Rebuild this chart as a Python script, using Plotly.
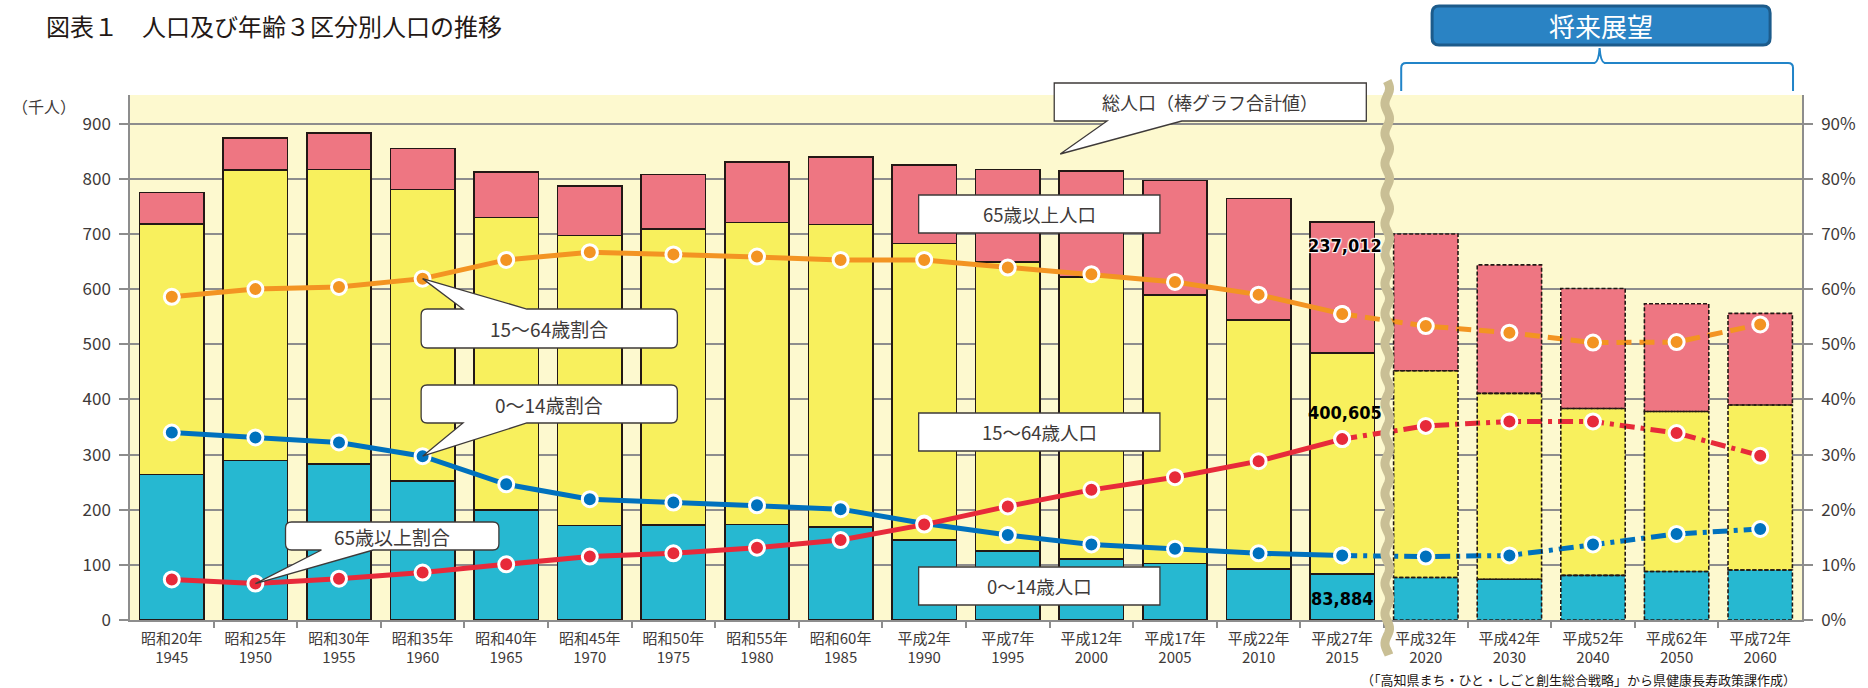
import math
import plotly.graph_objects as go

# ---------------- data ----------------
era_labels = ["昭和20年", "昭和25年", "昭和30年", "昭和35年", "昭和40年", "昭和45年", "昭和50年",
              "昭和55年", "昭和60年", "平成2年", "平成7年", "平成12年", "平成17年", "平成22年",
              "平成27年", "平成32年", "平成42年", "平成52年", "平成62年", "平成72年"]
year_labels = ["1945", "1950", "1955", "1960", "1965", "1970", "1975", "1980", "1985", "1990",
               "1995", "2000", "2005", "2010", "2015", "2020", "2030", "2040", "2050", "2060"]

# population (thousand persons)
pop_0_14 = [263.5, 289.0, 282.5, 252.5, 199.0, 171.6, 172.0, 173.4, 168.5, 144.6,
            125.6, 111.0, 102.3, 93.0, 83.884, 77.0, 74.0, 81.0, 88.0, 90.7]
pop_15_64 = [454.5, 526.5, 534.5, 528.5, 531.0, 525.4, 537.5, 547.6, 549.0, 538.4,
             523.4, 511.0, 487.2, 451.0, 400.605, 375.0, 337.0, 302.6, 290.0, 299.3]
pop_65 = [57.0, 58.5, 66.0, 74.0, 82.0, 90.0, 98.5, 110.0, 122.5, 142.0,
          168.0, 192.0, 207.5, 220.0, 237.012, 248.0, 233.0, 217.4, 195.5, 166.0]

# shares (%)
pct_15_64 = [58.6, 60.0, 60.4, 61.9, 65.3, 66.7, 66.3, 65.9, 65.3, 65.3,
             63.9, 62.7, 61.3, 59.0, 55.5, 53.3, 52.1, 50.3, 50.4, 53.6]
pct_0_14 = [34.0, 33.1, 32.2, 29.7, 24.6, 21.9, 21.3, 20.8, 20.1, 17.5,
            15.4, 13.7, 12.9, 12.1, 11.7, 11.5, 11.7, 13.7, 15.6, 16.5]
pct_65 = [7.35, 6.6, 7.5, 8.6, 10.1, 11.5, 12.1, 13.1, 14.5, 17.3,
          20.6, 23.6, 25.9, 28.8, 32.8, 35.2, 36.0, 36.0, 33.9, 29.8]

left_ticks = [0, 100, 200, 300, 400, 500, 600, 700, 800, 900]
right_ticks = [0, 10, 20, 30, 40, 50, 60, 70, 80, 90]
label_2015 = ["237,012", "400,605", "83,884"]
n_hist = 15  # 1945-2015 are actual values, later ones are projections

# ---------------- geometry / style ----------------
W, H = 1868, 688
ML, MR, MT, MB = 130, 61, 95, 68
PW, PH = W - ML - MR, H - MT - MB
Y_MAX, Y2_MAX = 952, 95.2
BAR_W = 0.77

C_PINK, C_YEL, C_CYAN = "#ee7682", "#f8f05d", "#26b8d1"
C_OR, C_BL, C_RD = "#f39422", "#0071bd", "#e72a3a"
C_EDGE = "#231815"
C_GRID = "#8d8d8d"
C_TXT = "#3e3a39"
FONT = "Noto Sans CJK JP, Noto Sans, sans-serif"
NARROW = "DejaVu Sans Condensed, DejaVu Sans, sans-serif"

idx = list(range(len(year_labels)))
ticktext = [f"{a}<br>{b}" for a, b in zip(era_labels, year_labels)]
n = len(idx)


def xp(X):
    return (X - ML) / PW


def yp(Y):
    return (H - MB - Y) / PH


def cat_px(i):
    return ML + (i + 0.5) / n * PW


def pct_py(v):
    return (H - MB) - v / Y2_MAX * PH


def path_from(cmds):
    out = []
    for c in cmds:
        if c[0] == "Z":
            out.append("Z")
        else:
            pts = " ".join(f"{xp(X):.5f},{yp(Y):.5f}" for X, Y in c[1:])
            out.append(f"{c[0]} {pts}")
    return " ".join(out)


def callout(x0, y0, x1, y1, r=0, ptr=None):
    cmds = [("M", (x0 + r, y0))]
    if ptr and ptr[0] == "top":
        _, b0, b1, tx, ty = ptr
        cmds += [("L", (b0, y0)), ("L", (tx, ty)), ("L", (b1, y0))]
    cmds += [("L", (x1 - r, y0)), ("Q", (x1, y0), (x1, y0 + r)),
             ("L", (x1, y1 - r)), ("Q", (x1, y1), (x1 - r, y1))]
    if ptr and ptr[0] == "bottom":
        _, b0, b1, tx, ty = ptr
        cmds += [("L", (b1, y1)), ("L", (tx, ty)), ("L", (b0, y1))]
    cmds += [("L", (x0 + r, y1)), ("Q", (x0, y1), (x0, y1 - r)),
             ("L", (x0, y0 + r)), ("Q", (x0, y0), (x0 + r, y0)), ("Z",)]
    return dict(type="path", xref="paper", yref="paper", path=path_from(cmds),
                fillcolor="white", line=dict(color=C_TXT, width=1.3), layer="above")


fig = go.Figure()

# ---------------- bars ----------------
edge_w = [1.6 if i < n_hist else 0 for i in idx]
for vals, col in [(pop_0_14, C_CYAN), (pop_15_64, C_YEL), (pop_65, C_PINK)]:
    fig.add_trace(go.Bar(x=idx, y=vals, width=BAR_W, marker=dict(color=col, line=dict(color=C_EDGE, width=edge_w)),
                         hoverinfo="skip", showlegend=False))

# ---------------- lines ----------------
line_specs = [(pct_15_64, C_OR, "15px,8px"), (pct_0_14, C_BL, "15px,6px,4px,6px"), (pct_65, C_RD, "15px,6px,4px,6px")]
for vals, col, dash in line_specs:
    mk = dict(size=15, color=col, line=dict(color="white", width=3))
    fig.add_trace(go.Scatter(x=idx[:n_hist], y=vals[:n_hist], yaxis="y2", mode="lines+markers",
                             line=dict(color=col, width=5), marker=mk, hoverinfo="skip", showlegend=False))
    fig.add_trace(go.Scatter(x=idx[n_hist - 1:], y=vals[n_hist - 1:], yaxis="y2", mode="lines+markers",
                             line=dict(color=col, width=5, dash=dash), marker=mk, hoverinfo="skip", showlegend=False))

shapes = []
# dashed outlines of projected bars
for i in idx[n_hist:]:
    base = 0
    for v in (pop_0_14[i], pop_15_64[i], pop_65[i]):
        shapes.append(dict(type="rect", xref="x", yref="y", x0=i - BAR_W / 2, x1=i + BAR_W / 2,
                           y0=base, y1=base + v, line=dict(color=C_EDGE, width=1.6, dash="4px,2px"),
                           fillcolor="rgba(0,0,0,0)", layer="above"))
        base += v

# wavy separator
wx = 1391
pts = []
Y = 81
while Y <= 655:
    pts.append((wx + 2.3 * math.sin(2 * math.pi * (Y - 81) / 30), Y))
    Y += 2
shapes.append(dict(type="path", xref="paper", yref="paper",
                   path=path_from([("M", pts[0])] + [("L", p) for p in pts[1:]]),
                   line=dict(color="#c9bf95", width=9), layer="above"))

# 将来展望 box and bracket
bx0, by0, bx1, by1, br = 1436, 6, 1775, 45, 7
shapes.append(dict(type="path", xref="paper", yref="paper",
                   path=path_from([("M", (bx0 + br, by0)), ("L", (bx1 - br, by0)), ("Q", (bx1, by0), (bx1, by0 + br)),
                                   ("L", (bx1, by1 - br)), ("Q", (bx1, by1), (bx1 - br, by1)),
                                   ("L", (bx0 + br, by1)), ("Q", (bx0, by1), (bx0, by1 - br)),
                                   ("L", (bx0, by0 + br)), ("Q", (bx0, by0), (bx0 + br, by0)), ("Z",)]),
                   fillcolor="#2a83c4", line=dict(color="#1c5b8b", width=3)))
cx = 1604
shapes.append(dict(type="path", xref="paper", yref="paper",
                   path=path_from([("M", (1405, 91)), ("L", (1405, 68)), ("Q", (1405, 63), (1410, 63)),
                                   ("L", (cx - 5, 63)), ("Q", (cx - 1, 62), (cx, 48)), ("Q", (cx + 1, 62), (cx + 5, 63)),
                                   ("L", (1793, 63)), ("Q", (1798, 63), (1798, 68)), ("L", (1798, 91))]),
                   line=dict(color="#2184c8", width=2)))

# callout boxes
shapes.append(callout(1057, 83, 1370, 121, 0, ("bottom", 1110, 1185, 1063, 154)))
shapes.append(callout(921, 195, 1163, 233))
shapes.append(callout(921, 413, 1163, 451))
shapes.append(callout(921, 567, 1163, 605))
shapes.append(callout(422, 309, 679, 348, 6, ("top", 464, 528, cat_px(3), pct_py(pct_15_64[3]))))
shapes.append(callout(422, 385, 679, 423, 6, ("bottom", 464, 528, cat_px(3), pct_py(pct_0_14[3]))))
shapes.append(callout(286, 522, 500, 550, 6, ("bottom", 322, 374, cat_px(1), pct_py(pct_65[1]))))

annotations = []


def txt(X, Y, s, size=17, color=C_TXT, xanchor="center", bold=False, family=FONT, shadow=None):
    t = f"<b>{s}</b>" if bold else s
    f = dict(size=size, color=color, family=family)
    if shadow:
        f["shadow"] = shadow
    annotations.append(dict(xref="paper", yref="paper", x=xp(X), y=yp(Y), text=t, showarrow=False,
                            xanchor=xanchor, yanchor="middle", font=f))


halo = "1px 1px 1px #fff, -1px -1px 1px #fff, 1px -1px 1px #fff, -1px 1px 1px #fff"
txt(44, 26, "図表１　人口及び年齢３区分別人口の推移", 24, "#231815", "left")
txt(10, 106, "（千人）", 16, C_TXT, "left")
txt(1605, 25, "将来展望", 26, "white")
txt(1213, 102, "総人口（棒グラフ合計値）", 18)
txt(1042, 214, "65歳以上人口", 18.5)
txt(1042, 432, "15～64歳人口", 18.5)
txt(1042, 586, "0～14歳人口", 18.5)
txt(550, 328, "15～64歳割合", 19)
txt(550, 404, "0～14歳割合", 19)
txt(393, 536, "65歳以上割合", 19)
x15 = cat_px(14)
txt(x15 + 3, 245, label_2015[0], 18, "black", bold=True, family=NARROW, shadow=halo)
txt(x15 + 3, 413, label_2015[1], 18, "black", bold=True, family=NARROW)
txt(x15, 598, label_2015[2], 18, "black", bold=True, family=NARROW)
txt(1803, 679.5, "（「高知県まち・ひと・しごと創生総合戦略」から県健康長寿政策課作成）", 13, "#231815", "right")

fig.update_layout(
    width=W, height=H, margin=dict(l=ML, r=MR, t=MT, b=MB),
    paper_bgcolor="white", plot_bgcolor="#fdf9cf",
    barmode="stack", showlegend=False,
    font=dict(family=FONT, color=C_TXT),
    xaxis=dict(range=[-0.5, n - 0.5], tickmode="array", tickvals=idx, ticktext=ticktext,
               tickfont=dict(size=15, color=C_TXT), ticks="", showgrid=False, zeroline=False,
               showline=True, linecolor=C_GRID, linewidth=1.5, ticklabelstandoff=4,
               minor=dict(tickmode="array", tickvals=[i + 0.5 for i in idx[:-1]], ticks="outside",
                          ticklen=6, tickcolor=C_GRID, tickwidth=1.5, showgrid=False)),
    yaxis=dict(range=[0, Y_MAX], tickmode="array", tickvals=left_ticks,
               ticktext=[str(v) for v in left_ticks],
               tickfont=dict(size=17, color=C_TXT), ticks="outside", ticklen=9, tickcolor=C_GRID,
               tickwidth=1.5, showgrid=True, gridcolor=C_GRID, gridwidth=1.5, zeroline=False,
               showline=True, linecolor=C_GRID, linewidth=1.5, ticklabelstandoff=5),
    yaxis2=dict(range=[0, Y2_MAX], overlaying="y", side="right", tickmode="array",
                tickvals=right_ticks, ticktext=[f"{v}%" for v in right_ticks],
                tickfont=dict(size=17, color=C_TXT),
                ticks="outside", ticklen=9, tickcolor=C_GRID, tickwidth=1.5, showgrid=False,
                zeroline=False, showline=True, linecolor=C_GRID, linewidth=1.5, ticklabelstandoff=5),
    shapes=shapes, annotations=annotations,
)

fig.write_html("out.html")
